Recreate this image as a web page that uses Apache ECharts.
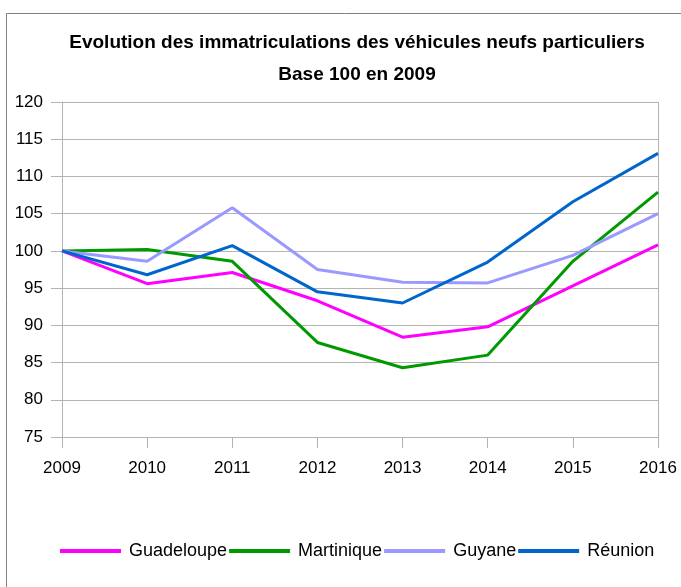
<!DOCTYPE html>
<html>
<head>
<meta charset="utf-8">
<script src="https://cdn.jsdelivr.net/npm/echarts@6/dist/echarts.min.js"></script>
<style>
  html, body { margin: 0; padding: 0; background: #fff; }
  #chart { width: 681px; height: 587px; }
</style>
</head>
<body>
<div id="chart"></div>
<script>
var years = ['2009', '2010', '2011', '2012', '2013', '2014', '2015', '2016'];
var guadeloupe = [100, 95.6, 97.1, 93.3, 88.4, 89.8, 95.3, 100.8];
var martinique = [100, 100.2, 98.6, 87.7, 84.3, 86.0, 98.6, 107.9];
var guyane = [100, 98.6, 105.8, 97.5, 95.8, 95.7, 99.4, 105.0];
var reunion = [100, 96.8, 100.7, 94.5, 93.0, 98.5, 106.6, 113.1];

var police = '"Liberation Sans", Arial, sans-serif';

function serie(name, data, color) {
    return {
        name: name,
        type: 'line',
        data: data,
        symbol: 'none',
        lineStyle: { width: 3, color: color },
        itemStyle: { color: color }
    };
}

var chart = echarts.init(document.getElementById('chart'));
var option = {
    backgroundColor: '#fff',
    animation: false,
    title: {
        text: 'Evolution des immatriculations des véhicules neufs particuliers\nBase 100 en 2009',
        left: 357,
        top: 27,
        padding: 0,
        textAlign: 'center',
        textStyle: {
            fontFamily: police,
            fontWeight: 'bold',
            fontSize: 19,
            lineHeight: 32,
            color: '#000'
        }
    },
    legend: {
        left: 60,
        top: 542,
        width: 640,
        padding: 0,
        icon: 'rect',
        itemWidth: 61,
        itemHeight: 4,
        itemGap: 2,
        textStyle: {
            fontFamily: police,
            fontSize: 18,
            color: '#000',
            padding: [0, 0, 0, 3]
        }
    },
    grid: { left: 62, right: 23, top: 102, bottom: 150 },
    xAxis: {
        type: 'category',
        data: years,
        boundaryGap: false,
        axisLine: { lineStyle: { color: '#b3b3b3' } },
        axisTick: { length: 11, lineStyle: { color: '#b3b3b3' } },
        axisLabel: {
            margin: 23,
            fontFamily: police,
            fontSize: 17,
            color: '#000'
        },
        splitLine: { show: false }
    },
    yAxis: {
        type: 'value',
        min: 75,
        max: 120,
        interval: 5,
        axisLine: { show: true, lineStyle: { color: '#b3b3b3' } },
        axisTick: { show: true, length: 11, lineStyle: { color: '#b3b3b3' } },
        axisLabel: {
            margin: 19,
            fontFamily: police,
            fontSize: 17,
            color: '#000'
        },
        splitLine: { lineStyle: { color: '#b3b3b3' } }
    },
    series: [
        serie('Guadeloupe', guadeloupe, '#ff00ff'),
        serie('Martinique', martinique, '#009900'),
        serie('Guyane', guyane, '#9999ff'),
        serie('Réunion', reunion, '#0066cc')
    ],
    // cadre du graphique + bord droit de la zone de tracé
    graphic: [{
        type: 'rect',
        shape: { x: 6.5, y: 13.5, width: 700, height: 600 },
        style: { fill: 'none', stroke: '#808080', lineWidth: 1 },
        silent: true
    }, {
        type: 'line',
        shape: { x1: 658.5, y1: 102, x2: 658.5, y2: 437 },
        style: { stroke: '#b3b3b3', lineWidth: 1 },
        silent: true
    }]
};
chart.setOption(option);
</script>
</body>
</html>
